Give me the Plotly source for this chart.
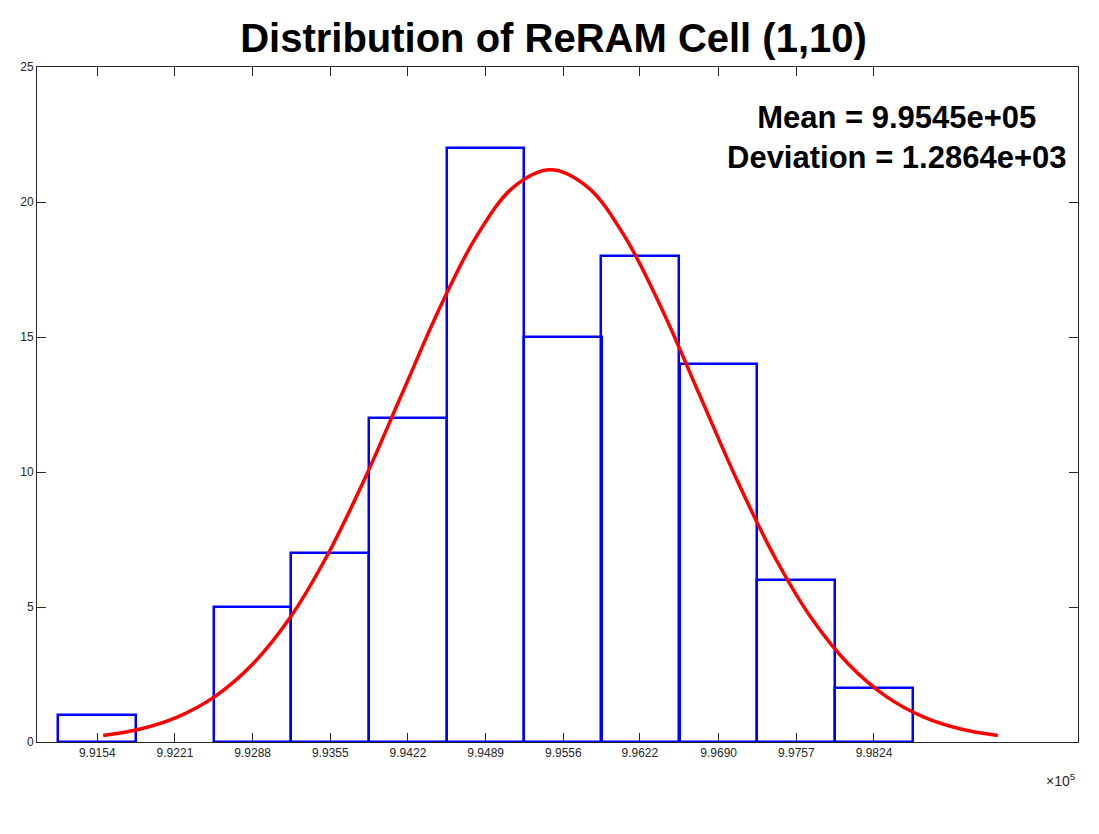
import plotly.graph_objects as go

# Histogram bins (x in units of 1e5) and counts
bin_centers = [9.9154, 9.9221, 9.9288, 9.9355, 9.9422, 9.9489,
               9.9556, 9.9622, 9.9690, 9.9757, 9.9824]
tick_labels = ['9.9154', '9.9221', '9.9288', '9.9355', '9.9422', '9.9489',
               '9.9556', '9.9622', '9.9690', '9.9757', '9.9824']
counts = [1, 0, 5, 7, 12, 22, 15, 18, 14, 6, 2]
bin_width = 0.0067

# Fitted normal curve
curve_x = [9.91591, 9.91912, 9.92234, 9.92556, 9.92877, 9.93199, 9.93520,
           9.93842, 9.94164, 9.94485, 9.94807, 9.95128, 9.95450, 9.95772,
           9.96093, 9.96415, 9.96736, 9.97058, 9.97380, 9.97701, 9.98023,
           9.98344, 9.98666, 9.98988, 9.99309]
curve_y = [0.24, 0.48, 0.93, 1.69, 2.87, 4.58, 6.88, 9.70, 12.85, 15.99,
           18.70, 20.54, 21.19, 20.54, 18.70, 15.99, 12.85, 9.70, 6.88, 4.58,
           2.87, 1.69, 0.93, 0.48, 0.24]

mean_text = 'Mean = 9.9545e+05'
dev_text = 'Deviation = 1.2864e+03'

fig = go.Figure()

# bars (empty bins drawn as nothing)
fig.add_trace(go.Bar(
    x=bin_centers,
    y=[c if c > 0 else None for c in counts],
    width=bin_width,
    marker=dict(color='rgba(255,255,255,0)', line=dict(color='#0000ff', width=2.5)),
    showlegend=False,
))

# fitted curve
fig.add_trace(go.Scatter(
    x=curve_x, y=curve_y,
    mode='lines',
    line=dict(color='#ff0000', width=3.5, shape='spline'),
    showlegend=False,
))

axis_style = dict(
    showline=True, linecolor='#262626', linewidth=1, mirror='ticks',
    ticks='inside', ticklen=9, tickcolor='#262626',
    showgrid=False, zeroline=False,
    tickfont=dict(family='Liberation Sans, Arial', size=12, color='#262626'),
)

fig.update_xaxes(range=[9.9102, 10.0000], tickvals=bin_centers, ticktext=tick_labels, **axis_style)
fig.update_yaxes(range=[0, 25], tickvals=[0, 5, 10, 15, 20, 25], **axis_style)

# page body has an 8px margin, so the figure is sized to fit inside it
fig.update_layout(
    width=1091, height=826,
    margin=dict(l=29, r=21, t=59, b=92),
    paper_bgcolor='white', plot_bgcolor='white',
    bargap=0,
    title=dict(
        text='<b>Distribution of ReRAM Cell (1,10)</b>',
        x=0.5, xanchor='center', y=0.964, yanchor='middle',
        font=dict(family='Liberation Sans, Arial', size=40, color='black'),
    ),
    annotations=[
        dict(x=0.826, y=0.895, xref='paper', yref='paper',
             text='<b>' + mean_text + '<br>' + dev_text + '</b>',
             showarrow=False, align='center', xanchor='center', yanchor='middle',
             font=dict(family='Liberation Sans, Arial', size=31, color='black')),
        dict(x=1.0, y=-0.056, xref='paper', yref='paper',
             text='×10<sup>5</sup>', showarrow=False, xanchor='right', yanchor='middle',
             font=dict(family='Liberation Sans, Arial', size=14, color='#262626')),
    ],
)

fig.write_html("out.html")
